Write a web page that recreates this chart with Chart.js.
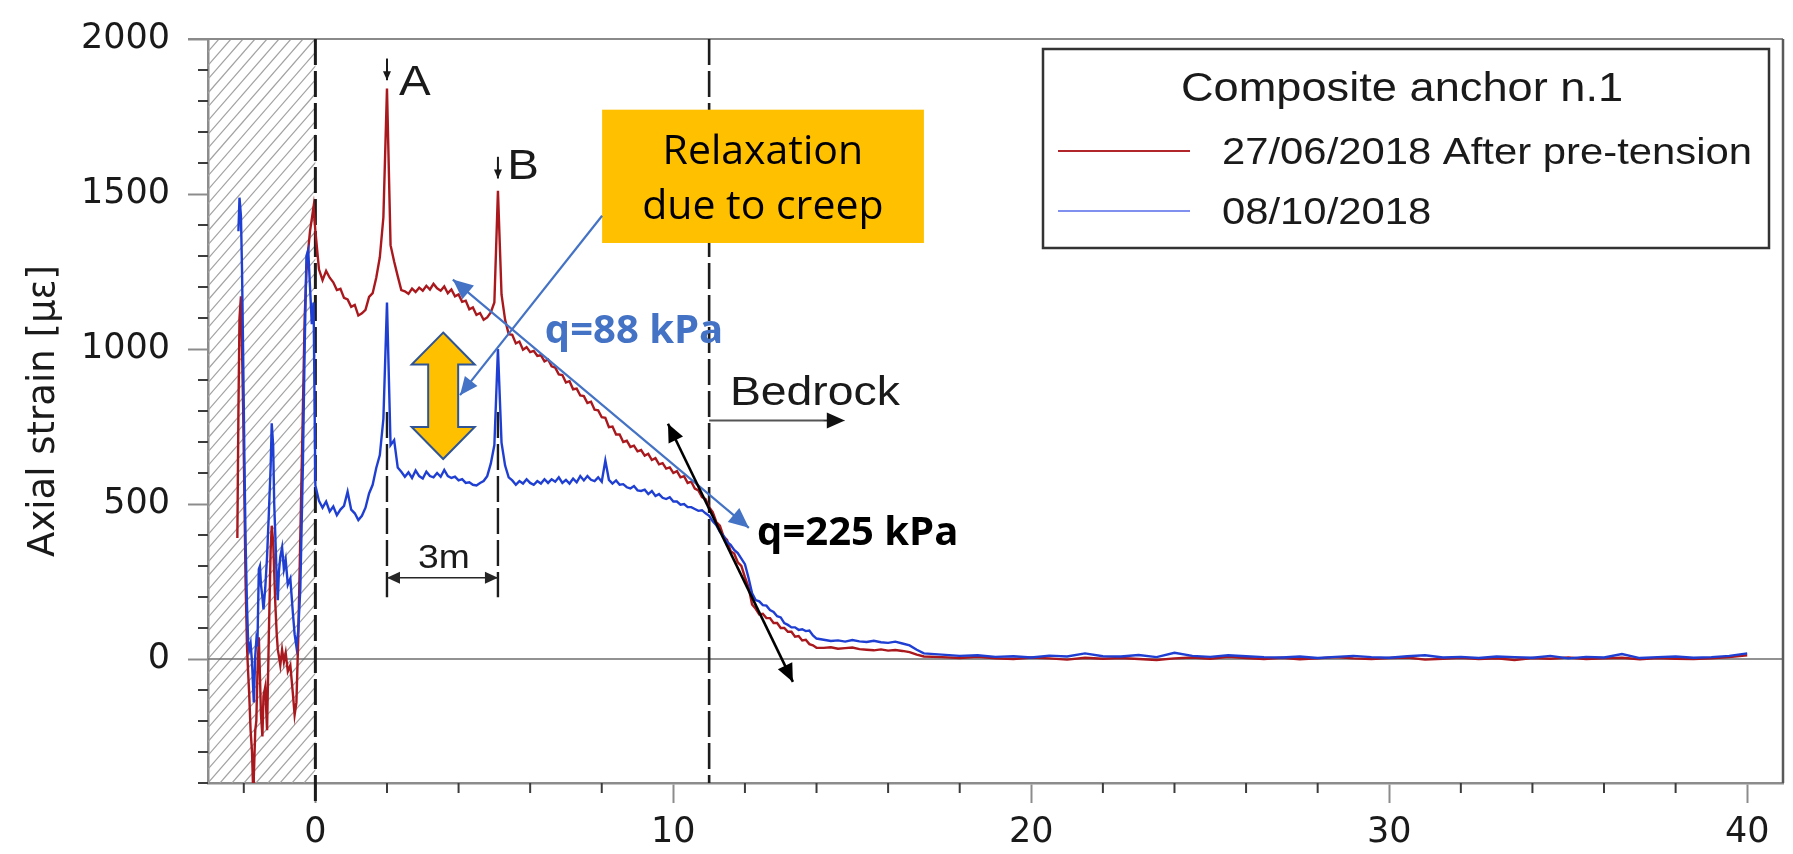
<!DOCTYPE html>
<html>
<head>
<meta charset="utf-8">
<title>Composite anchor n.1 - axial strain</title>
<script src="https://cdn.jsdelivr.net/npm/chart.js@4.4.0/dist/chart.umd.min.js"></script>
<style>
  html, body { margin: 0; padding: 0; background: #fff; }
  #wrap { width: 1793px; height: 854px; }
</style>
</head>
<body>
<div id="wrap"><canvas id="strainChart" width="1793" height="854"></canvas></div>
<script>
// series names
const seriesLabels = ['27/06/2018 After pre-tension', '08/10/2018'];

// depth along the anchor [m] in four pieces
const depthHatch = [-2.18, -2.15, -2.12, -2.08, -2.05, -2.02, -1.98, -1.95, -1.91, -1.88,
  -1.85, -1.81, -1.77, -1.74, -1.72, -1.68, -1.65, -1.62, -1.58, -1.55,
  -1.52, -1.48, -1.45, -1.40, -1.35, -1.30, -1.25, -1.22, -1.18, -1.15,
  -1.12, -1.08, -1.05, -1.02, -0.98, -0.93, -0.88, -0.83, -0.77, -0.70,
  -0.63, -0.58, -0.53, -0.48, -0.42, -0.35, -0.30, -0.25, -0.20, -0.15,
  -0.10, -0.05];
const depthMain = [0.0, 0.1, 0.2, 0.3, 0.4, 0.5, 0.6, 0.7, 0.8, 0.9,
  1.0, 1.1, 1.2, 1.3, 1.4, 1.5, 1.6, 1.7, 1.8, 1.9,
  2.0, 2.1, 2.2, 2.3, 2.4, 2.5, 2.6, 2.7, 2.8, 2.9,
  3.0, 3.1, 3.2, 3.3, 3.4, 3.5, 3.6, 3.7, 3.8, 3.9,
  4.0, 4.1, 4.2, 4.3, 4.4, 4.5, 4.6, 4.7, 4.8, 4.9,
  5.0, 5.1, 5.2, 5.3, 5.4, 5.5, 5.6, 5.7, 5.8, 5.9,
  6.0, 6.1, 6.2, 6.3, 6.4, 6.5, 6.6, 6.7, 6.8, 6.9,
  7.0, 7.1, 7.2, 7.3, 7.4, 7.5, 7.6, 7.7, 7.8, 7.9,
  8.0, 8.1, 8.2, 8.3, 8.4, 8.5, 8.6, 8.7, 8.8, 8.9,
  9.0, 9.1, 9.2, 9.3, 9.4, 9.5, 9.6, 9.7, 9.8, 9.9,
  10.0, 10.1, 10.2, 10.3, 10.4, 10.5, 10.6, 10.7, 10.8, 10.9,
  11.0, 11.1, 11.2, 11.3, 11.4, 11.5, 11.6, 11.7, 11.8, 11.9,
  12.0, 12.1, 12.2, 12.3, 12.4, 12.5, 12.6, 12.7, 12.8, 12.9,
  13.0, 13.1, 13.2, 13.3, 13.4, 13.5, 13.6, 13.7, 13.8, 13.9,
  14.0];
const depthMid = [14.2, 14.4, 14.6, 14.8, 15.0, 15.2, 15.4, 15.6, 15.8, 16.0,
  16.2, 16.4, 16.6, 16.8, 17.0];
const depthTail = [17.5, 18, 18.5, 19, 19.5, 20, 20.5, 21, 21.5, 22,
  22.5, 23, 23.5, 24, 24.5, 25, 25.5, 26, 26.5, 27,
  27.5, 28, 28.5, 29, 29.5, 30, 30.5, 31, 31.5, 32,
  32.5, 33, 33.5, 34, 34.5, 35, 35.5, 36, 36.5, 37,
  37.5, 38, 38.5, 39, 39.5, 40];

// axial strain [micro-strain], 27/06/2018 (after pre-tension)
const redHatch = [390, 800, 1100, 1170, 1000, 820, 500, 250, 40, -40,
  -110, -230, -300, -420, -380, -230, -200, -50, 70, -50,
  -180, -250, -120, -90, -230, 80, 350, 430, 380, 280,
  180, 80, 30, 10, -20, 30, -10, 20, -40, -20,
  -110, -180, -140, 60, 400, 800, 1100, 1250, 1320, 1380,
  1420, 1460];
const redMain = [1380, 1257, 1222, 1252, 1230, 1215, 1190, 1194, 1165, 1160,
  1136, 1142, 1108, 1115, 1126, 1168, 1180, 1230, 1296, 1425,
  1840, 1335, 1282, 1235, 1190, 1186, 1178, 1195, 1184, 1198,
  1188, 1204, 1192, 1210, 1196, 1188, 1202, 1180, 1192, 1170,
  1176, 1152, 1156, 1128, 1134, 1110, 1116, 1094, 1102, 1118,
  1150, 1510, 1176, 1094, 1048, 1046, 1018, 1024, 998, 1006,
  990, 994, 978, 980, 960, 966, 944, 940, 918, 916,
  892, 896, 870, 872, 850, 848, 826, 830, 804, 802,
  780, 778, 748, 750, 724, 724, 700, 704, 684, 688,
  670, 674, 656, 662, 642, 648, 628, 632, 614, 618,
  600, 606, 586, 590, 568, 572, 550, 544, 522, 516,
  490, 474, 442, 430, 396, 384, 348, 340, 312, 300,
  264, 232, 176, 162, 144, 146, 132, 132, 116, 116,
  100, 100, 88, 88, 72, 74, 60, 62, 48, 44,
  36];
const redMid = [36, 38, 33, 35, 37, 32, 30, 28, 31, 27, 29, 26, 22, 14, 8];
const redTail = [6, 3, 7, 2, 0, 5, 2, -2, 4, 1,
  3, 0, -3, 2, 5, 1, 7, 3, 0, 4,
  -1, 2, 6, 2, 0, 3, 5, -2, 1, 4,
  0, 2, -3, 3, 1, 5, 0, 2, 4, -1,
  3, 1, 0, 2, 6, 12];

// axial strain [micro-strain], 08/10/2018
const blueHatch = [null, 1380, 1488, 1430, 1260, 1000, 620, 380, 170, 60,
  30, 50, -10, -90, -140, 10, 60, 40, 290, 300,
  240, 200, 160, 230, 330, 470, 620, 760, 690, 500,
  400, 260, 190, 280, 330, 360, 290, 320, 240, 260,
  150, 80, 40, 90, 230, 620, 1000, 1300, 1320, 1200,
  1080, 1150];
const blueMain = [560, 510, 488, 508, 476, 492, 464, 482, 494, 540,
  482, 470, 448, 462, 488, 534, 562, 616, 658, 775,
  1150, 690, 706, 618, 604, 588, 602, 584, 608, 590,
  582, 604, 590, 586, 600, 588, 610, 590, 584, 588,
  576, 580, 568, 570, 562, 560, 568, 574, 590, 630,
  690, 1000, 698, 624, 586, 576, 562, 574, 566, 580,
  568, 562, 574, 566, 580, 568, 580, 572, 586, 568,
  578, 566, 582, 570, 590, 576, 590, 578, 574, 586,
  572, 640, 578, 566, 576, 562, 564, 554, 550, 558,
  544, 542, 546, 532, 542, 526, 532, 520, 516, 522,
  508, 508, 498, 500, 490, 490, 484, 478, 480, 470,
  462, 444, 432, 410, 398, 378, 368, 352, 342, 324,
  306, 262, 212, 190, 186, 174, 172, 158, 152, 138,
  134, 116, 110, 102, 102, 94, 96, 90, 92, 76,
  66];
const blueMid = [62, 58, 60, 56, 61, 57, 55, 59, 54, 52, 56, 50, 44, 30, 18];
const blueTail = [14, 10, 12, 7, 9, 5, 11, 8, 18, 9,
  8, 13, 6, 20, 10, 7, 12, 9, 6, 5,
  8, 3, 7, 10, 6, 4, 9, 12, 5, 7,
  3, 8, 6, 4, 10, 2, 7, 5, 16, 3,
  6, 8, 4, 6, 10, 18];

// axis ticks
const xLabelTicks = [0, 10, 20, 30, 40];
const xMinorTicks = [-2, 2, 4, 6, 8, 12, 14, 16, 18, 22, 24, 26, 28, 32, 34, 36, 38];
const yLabelTicks = [0, 500, 1000, 1500, 2000];
const yMinorTicks = [-400, -300, -200, -100, 100, 200, 300, 400, 600, 700, 800, 900,
  1100, 1200, 1300, 1400, 1600, 1700, 1800, 1900];

// marked positions along the anchor
const headDepth = 0;      // anchor head, hatched zone to the left
const bedrockDepth = 11;  // top of bedrock
const pointA = 2;
const pointB = 5.1;

const depth = depthHatch.concat(depthMain, depthMid, depthTail);
const redStrain = redHatch.concat(redMain, redMid, redTail);
const blueStrain = blueHatch.concat(blueMain, blueMid, blueTail);

function toPoints(values) {
    return depth.map((d, i) => ({ x: d, y: values[i] }));
}

const RED = '#a9181d';
const BLUE = '#1f3fd2';
const NOTE_BLUE = '#4472C4';
const ORANGE = '#FFC000';

function arrowHead(ctx, fromX, fromY, tipX, tipY, len, half) {
    const ang = Math.atan2(tipY - fromY, tipX - fromX);
    const bx = tipX - len * Math.cos(ang);
    const by = tipY - len * Math.sin(ang);
    ctx.beginPath();
    ctx.moveTo(tipX, tipY);
    ctx.lineTo(bx + half * Math.sin(ang), by - half * Math.cos(ang));
    ctx.lineTo(bx - half * Math.sin(ang), by + half * Math.cos(ang));
    ctx.closePath();
    ctx.fill();
}

function arrow(ctx, x1, y1, x2, y2, color, width, len, half, both) {
    ctx.save();
    ctx.strokeStyle = color;
    ctx.fillStyle = color;
    ctx.lineWidth = width;
    ctx.setLineDash([]);
    ctx.beginPath();
    ctx.moveTo(x1, y1);
    ctx.lineTo(x2, y2);
    ctx.stroke();
    arrowHead(ctx, x1, y1, x2, y2, len, half);
    if (both) arrowHead(ctx, x2, y2, x1, y1, len, half);
    ctx.restore();
}

// the original figure is a horizontally stretched Arial plot
function stretchedText(ctx, text, x, y, size, align) {
    ctx.save();
    ctx.font = size + 'px "Liberation Sans", Arial, sans-serif';
    ctx.fillStyle = '#1a1a1a';
    ctx.textAlign = align;
    ctx.textBaseline = 'alphabetic';
    ctx.translate(x, y);
    ctx.scale(1.13, 1);
    ctx.fillText(text, 0, 0);
    ctx.restore();
}

function dashedV(ctx, px, top, bottom, width) {
    ctx.save();
    ctx.strokeStyle = '#1c1c1c';
    ctx.lineWidth = width;
    ctx.setLineDash([26, 6]);
    ctx.beginPath();
    ctx.moveTo(px, top);
    ctx.lineTo(px, bottom);
    ctx.stroke();
    ctx.restore();
}

const notesPlugin = {
    id: 'notes',
    beforeDatasetsDraw(chart) {
        const { ctx, chartArea: a, scales: { x, y } } = chart;
        const X = v => x.getPixelForValue(v);
        const Y = v => y.getPixelForValue(v);
        const x0 = X(headDepth);

        // hatched zone before the anchor head
        ctx.save();
        ctx.beginPath();
        ctx.rect(a.left, a.top, x0 - a.left, a.bottom - a.top);
        ctx.clip();
        ctx.strokeStyle = '#a2a2a2';
        ctx.lineWidth = 1.2;
        const h = a.bottom - a.top;
        for (let sx = a.left - h; sx < x0 + 20; sx += 12) {
            ctx.beginPath();
            ctx.moveTo(sx, a.bottom);
            ctx.lineTo(sx + h / 1.15, a.top);
            ctx.stroke();
        }
        ctx.restore();

        ctx.save();
        // zero line
        ctx.strokeStyle = '#6e6e6e';
        ctx.lineWidth = 1.6;
        ctx.beginPath();
        ctx.moveTo(a.left, Y(0));
        ctx.lineTo(a.right, Y(0));
        ctx.stroke();

        // minor ticks
        ctx.strokeStyle = '#3c3c3c';
        ctx.lineWidth = 2;
        xMinorTicks.forEach(v => {
            ctx.beginPath();
            ctx.moveTo(X(v), a.bottom);
            ctx.lineTo(X(v), a.bottom + 10);
            ctx.stroke();
        });
        yMinorTicks.forEach(v => {
            ctx.beginPath();
            ctx.moveTo(a.left - 10, Y(v));
            ctx.lineTo(a.left, Y(v));
            ctx.stroke();
        });

        // top and right frame
        ctx.strokeStyle = '#8a8a8a';
        ctx.beginPath();
        ctx.moveTo(a.left - 20, a.top);
        ctx.lineTo(a.right, a.top);
        ctx.stroke();
        ctx.strokeStyle = '#5a5a5a';
        ctx.lineWidth = 2.5;
        ctx.beginPath();
        ctx.moveTo(a.right, a.top);
        ctx.lineTo(a.right, a.bottom);
        ctx.stroke();
        ctx.restore();

        // anchor head and bedrock
        dashedV(ctx, x0, a.top, a.bottom + 20, 3);
        dashedV(ctx, X(bedrockDepth), a.top, a.bottom, 2.6);
        // points A and B, 3 m apart
        dashedV(ctx, X(pointA), Y(797), Y(199), 2.4);
        dashedV(ctx, X(pointB), Y(797), Y(199), 2.4);
    },
    afterDatasetsDraw(chart) {
        const { ctx, chartArea: a, scales: { x, y } } = chart;
        const X = v => x.getPixelForValue(v);
        const Y = v => y.getPixelForValue(v);

        // A / B markers
        arrow(ctx, X(pointA), Y(1937), X(pointA), Y(1867), '#1a1a1a', 2, 9, 4, false);
        arrow(ctx, X(pointB), Y(1620), X(pointB), Y(1550), '#1a1a1a', 2, 9, 4, false);
        stretchedText(ctx, 'A', X(2.78), Y(1820), 42, 'center');
        stretchedText(ctx, 'B', X(5.8), Y(1550), 42, 'center');

        // 3 m bracket
        arrow(ctx, X(pointA), Y(262), X(pointB), Y(262), '#262626', 1.6, 13, 6, true);
        stretchedText(ctx, '3m', X(3.59), Y(295), 33, 'center');

        // bedrock
        stretchedText(ctx, 'Bedrock', X(11.58), Y(819), 41, 'left');
        ctx.save();
        ctx.strokeStyle = '#555';
        ctx.lineWidth = 2;
        ctx.beginPath();
        ctx.moveTo(X(bedrockDepth), Y(769));
        ctx.lineTo(X(14.3), Y(769));
        ctx.stroke();
        ctx.restore();
        arrow(ctx, X(14.2), Y(769), X(14.79), Y(769), '#111', 0.5, 18, 8, false);

        // orange note box
        const bx1 = X(8.01), bx2 = X(17.0), by1 = Y(1772), by2 = Y(1342);
        ctx.save();
        ctx.fillStyle = ORANGE;
        ctx.fillRect(bx1, by1, bx2 - bx1, by2 - by1);
        ctx.fillStyle = '#000';
        ctx.font = '41px "Open Sans", sans-serif';
        ctx.textAlign = 'center';
        ctx.textBaseline = 'alphabetic';
        ctx.fillText('Relaxation', X(12.5), Y(1598));
        ctx.fillText('due to creep', X(12.5), Y(1418));
        ctx.restore();

        // double block arrow between the two profiles
        const cx = X(3.57), top = Y(1053), bot = Y(645);
        const hh = 31.5, sh = 15, hl = 32;
        ctx.save();
        ctx.beginPath();
        ctx.moveTo(cx, top);
        ctx.lineTo(cx + hh, top + hl);
        ctx.lineTo(cx + sh, top + hl);
        ctx.lineTo(cx + sh, bot - hl);
        ctx.lineTo(cx + hh, bot - hl);
        ctx.lineTo(cx, bot);
        ctx.lineTo(cx - hh, bot - hl);
        ctx.lineTo(cx - sh, bot - hl);
        ctx.lineTo(cx - sh, top + hl);
        ctx.lineTo(cx - hh, top + hl);
        ctx.closePath();
        ctx.fillStyle = ORANGE;
        ctx.fill();
        ctx.strokeStyle = '#2F5597';
        ctx.lineWidth = 2;
        ctx.stroke();
        ctx.restore();

        // pointer from the note to the gap
        arrow(ctx, bx1, Y(1430), X(4.04), Y(851), NOTE_BLUE, 2.2, 18, 8, false);

        // slopes
        arrow(ctx, X(3.84), Y(1224), X(12.11), Y(423), NOTE_BLUE, 2.2, 20, 9, true);
        arrow(ctx, X(9.85), Y(759), X(13.34), Y(-74), '#000', 2.6, 18, 8, true);

        ctx.save();
        ctx.font = 'bold 40px "Open Sans", sans-serif';
        ctx.textAlign = 'left';
        ctx.textBaseline = 'alphabetic';
        ctx.fillStyle = NOTE_BLUE;
        ctx.fillText('q=88 kPa', X(6.41), Y(1018));
        ctx.fillStyle = '#000';
        ctx.fillText('q=225 kPa', X(12.34), Y(369));
        ctx.restore();

        // legend box
        const lx = a.right - 740, ly = a.top + 10, lw = 726, lh = 199;
        ctx.save();
        ctx.fillStyle = '#fff';
        ctx.fillRect(lx, ly, lw, lh);
        ctx.strokeStyle = '#333';
        ctx.lineWidth = 2.5;
        ctx.strokeRect(lx, ly, lw, lh);
        ctx.restore();
        stretchedText(ctx, 'Composite anchor n.1', lx + 359, ly + 52, 40, 'center');
        chart.data.datasets.forEach((ds, i) => {
            const ry = ly + 102 + i * 60;
            ctx.save();
            ctx.strokeStyle = ds.legendColor;
            ctx.lineWidth = 2.2;
            ctx.beginPath();
            ctx.moveTo(lx + 15, ry);
            ctx.lineTo(lx + 147, ry);
            ctx.stroke();
            ctx.restore();
            stretchedText(ctx, ds.label, lx + 179, ry + 13, 37, 'left');
        });
    }
};

const tickFont = { family: '"DejaVu Sans", sans-serif', size: 35 };

const strainChart = new Chart(document.getElementById('strainChart'), {
    type: 'line',
    data: {
        datasets: [
            {
                label: seriesLabels[0],
                data: toPoints(redStrain),
                borderColor: RED,
                legendColor: '#b0262a',
                borderWidth: 2.4,
                pointRadius: 0,
                tension: 0,
                order: 2
            },
            {
                label: seriesLabels[1],
                data: toPoints(blueStrain),
                borderColor: BLUE,
                legendColor: '#7f90ee',
                borderWidth: 2.4,
                pointRadius: 0,
                tension: 0,
                order: 1
            }
        ]
    },
    options: {
        responsive: false,
        animation: false,
        layout: { padding: { top: 25, right: 10, bottom: 0, left: 0 } },
        plugins: {
            legend: { display: false },
            tooltip: { enabled: false }
        },
        scales: {
            x: {
                type: 'linear',
                min: -3,
                max: 41,
                afterBuildTicks: scale => { scale.ticks = xLabelTicks.map(v => ({ value: v })); },
                afterFit: scale => { scale.height = 71; },
                grid: { drawOnChartArea: false, drawTicks: true, tickLength: 20, tickColor: '#8c8c8c', tickWidth: 2 },
                border: { color: '#8c8c8c', width: 2.5 },
                ticks: { font: tickFont, color: '#1a1a1a', padding: 9, maxRotation: 0, autoSkip: false,
                         callback: v => String(v) }
            },
            y: {
                type: 'linear',
                min: -400,
                max: 2000,
                afterBuildTicks: scale => { scale.ticks = yLabelTicks.map(v => ({ value: v })); },
                afterFit: scale => { scale.width = 208; },
                grid: { drawOnChartArea: false, drawTicks: true, tickLength: 20, tickColor: '#8c8c8c', tickWidth: 2 },
                border: { color: '#8c8c8c', width: 2.5 },
                ticks: { font: tickFont, color: '#1a1a1a', padding: 18, autoSkip: false,
                         callback: v => String(v) },
                title: {
                    display: true,
                    text: 'Axial strain [με]',
                    font: { family: '"DejaVu Sans", sans-serif', size: 37 },
                    color: '#1a1a1a',
                    padding: { top: 22, bottom: 0 }
                }
            }
        }
    },
    plugins: [notesPlugin]
});
</script>
</body>
</html>
